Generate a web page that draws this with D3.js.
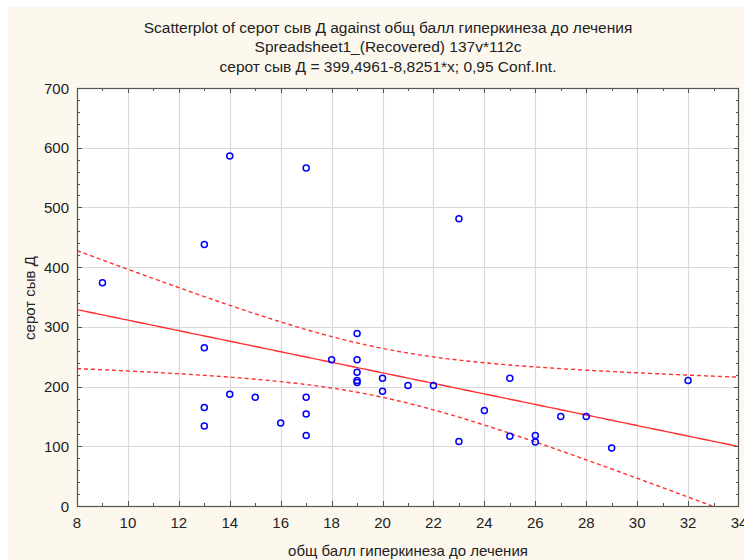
<!DOCTYPE html>
<html><head><meta charset="utf-8">
<script src="https://cdn.jsdelivr.net/npm/d3@7"></script>
<style>
html,body{margin:0;padding:0;background:#fff;}
svg{display:block;}
text{font-family:"Liberation Sans",Arial,sans-serif;fill:#222;}
</style></head>
<body>
<script>
// ---- data ----
const xValues = [9,13,13,13,13,14,14,15,16,17,17,17,17,18,19,19,19,19,19,20,20,21,22,23,23,24,25,25,26,26,27,28,29,32];
const yValues = [374,438,265,165,134,586,187,182,139,566,182,154,118,245,289,245,224,210,207,214,192,202,202,481,108,160,214,117,118,107,150,150,97,210];
const xTicks = [8,10,12,14,16,18,20,22,24,26,28,30,32,34];
const yTicks = [0,100,200,300,400,500,600,700];
const intercept = 399.4961, slope = -8.8251;
const titleLines = [
  "Scatterplot of серот сыв Д against общ балл гиперкинеза до лечения",
  "Spreadsheet1_(Recovered) 137v*112c",
  "серот сыв Д = 399,4961-8,8251*x; 0,95 Conf.Int."
];
const xTitle = "общ балл гиперкинеза до лечения";
const yTitle = "серот сыв Д";

// ---- layout ----
const W = 744, H = 560;
const L = 77, T = 88, R = 739, B = 506;
const svg = d3.select("body").append("svg").attr("width", W).attr("height", H);
svg.append("rect").attr("x", 8).attr("y", 7).attr("width", W - 8).attr("height", H - 7).attr("fill", "#fdf8ee");

const x = d3.scaleLinear().domain([8, 34]).range([L, R]);
const y = d3.scaleLinear().domain([0, 700]).range([B, T]);

svg.append("rect").attr("x", L).attr("y", T).attr("width", R - L).attr("height", B - T).attr("fill", "#fff");

// grid
const g = svg.append("g");
g.selectAll("line.gx").data(xTicks.slice(1, -1)).join("line")
  .attr("x1", d => Math.round(x(d)) + 0.5).attr("x2", d => Math.round(x(d)) + 0.5)
  .attr("y1", T).attr("y2", B).attr("stroke", "#dadada").attr("stroke-width", 1.2);
g.selectAll("line.gy").data(yTicks.slice(1, -1)).join("line")
  .attr("y1", d => Math.round(y(d)) + 0.5).attr("y2", d => Math.round(y(d)) + 0.5)
  .attr("x1", L).attr("x2", R).attr("stroke", "#dadada").attr("stroke-width", 1.2);

// regression + CI
const n = xValues.length;
const xm = d3.mean(xValues);
const Sxx = d3.sum(xValues, v => (v - xm) * (v - xm));
const sse = d3.sum(xValues, (v, i) => { const r = yValues[i] - (intercept + slope * v); return r * r; });
const s = Math.sqrt(sse / (n - 2));
const tval = 2.0369;
const xs = d3.range(8, 34.001, 0.1);
const fit = v => intercept + slope * v;
const hw = v => tval * s * Math.sqrt(1 / n + (v - xm) * (v - xm) / Sxx);

svg.append("clipPath").attr("id", "clip").append("rect").attr("x", L).attr("y", T).attr("width", R - L).attr("height", B - T);
const pg = svg.append("g").attr("clip-path", "url(#clip)");
const line = d3.line().x(d => x(d[0])).y(d => y(d[1]));
pg.append("path").attr("d", line(xs.map(v => [v, fit(v)]))).attr("fill", "none").attr("stroke", "#ff3030").attr("stroke-width", 1.4);
pg.append("path").attr("d", line(xs.map(v => [v, fit(v) + hw(v)]))).attr("fill", "none").attr("stroke", "#ff3030").attr("stroke-width", 1.4).attr("stroke-dasharray", "4,3");
pg.append("path").attr("d", line(xs.map(v => [v, fit(v) - hw(v)]))).attr("fill", "none").attr("stroke", "#ff3030").attr("stroke-width", 1.4).attr("stroke-dasharray", "4,3");

// points
pg.selectAll("circle").data(xValues.map((v, i) => [v, yValues[i]])).join("circle")
  .attr("cx", d => x(d[0])).attr("cy", d => y(d[1])).attr("r", 3)
  .attr("fill", "none").attr("stroke", "#0000ff").attr("stroke-width", 1.5);

// frame
svg.append("rect").attr("x", L + 0.5).attr("y", T + 0.5).attr("width", R - L - 1).attr("height", B - T)
  .attr("fill", "none").attr("stroke", "#555").attr("stroke-width", 1.2);

// ticks (inward, all sides)
const xMinor = d3.range(9, 34, 2);
const yMinor = d3.range(0, 701, 20).filter(v => v % 100 !== 0);
const tk = svg.append("g").attr("stroke", "#555").attr("stroke-width", 1);
function tickX(vals, len) {
  vals.forEach(v => {
    const px = Math.round(x(v)) + 0.5;
    tk.append("line").attr("x1", px).attr("x2", px).attr("y1", B).attr("y2", B - len);
    tk.append("line").attr("x1", px).attr("x2", px).attr("y1", T).attr("y2", T + len);
  });
}
function tickY(vals, len) {
  vals.forEach(v => {
    const py = Math.round(y(v)) + 0.5;
    tk.append("line").attr("y1", py).attr("y2", py).attr("x1", L).attr("x2", L + len);
    tk.append("line").attr("y1", py).attr("y2", py).attr("x1", R).attr("x2", R - len);
  });
}
tickX(xTicks.slice(1, -1), 5); tickX(xMinor, 3);
tickY(yTicks.slice(1, -1), 5); tickY(yMinor, 3);

// tick labels
const FS = 15;
svg.selectAll("text.xl").data(xTicks).join("text")
  .attr("x", d => x(d)).attr("y", 528).attr("text-anchor", "middle").attr("font-size", FS).text(d => d);
svg.selectAll("text.yl").data(yTicks).join("text")
  .attr("x", 69).attr("y", d => y(d) + 5.5).attr("text-anchor", "end").attr("font-size", FS).text(d => d);

// titles
titleLines.forEach((t, i) => {
  svg.append("text").attr("x", 388).attr("y", 32.5 + i * 19.5).attr("text-anchor", "middle").attr("font-size", 15.5).text(t);
});
svg.append("text").attr("x", 408).attr("y", 556).attr("text-anchor", "middle").attr("font-size", FS).text(xTitle);
svg.append("text").attr("transform", "translate(35,298) rotate(-90)").attr("text-anchor", "middle").attr("font-size", FS).text(yTitle);
</script>
</body></html>
